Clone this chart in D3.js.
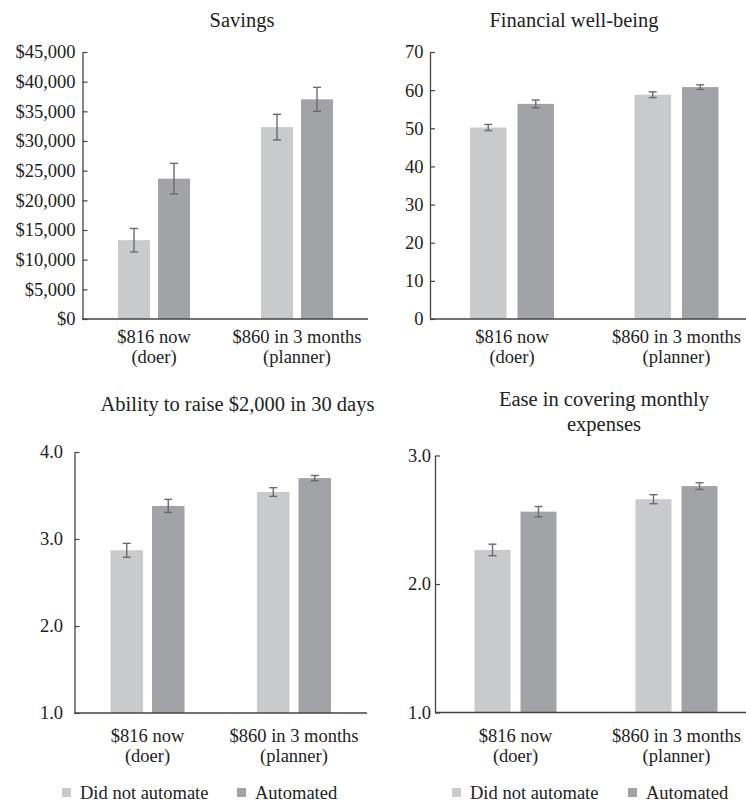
<!DOCTYPE html>
<html lang="en">
<head>
    <meta charset="UTF-8">
    <title>Automation and savings outcomes</title>
    <script src="https://d3js.org/d3.v7.min.js"></script>
    <style>
        body { margin: 0; background: #fff; }
        svg { font-family: "Liberation Serif", "Times New Roman", serif; }
        .title { font-size: 20.5px; fill: #222; text-anchor: middle; }
        .tick text { font-size: 18.5px; fill: #222; }
        .cat { font-size: 18.5px; fill: #222; text-anchor: middle; }
        .legend text { font-size: 18.5px; fill: #222; }
    </style>
</head>
<body>
<div id="chart"></div>
<script>
    // categories and series
    const groups = ["$816 now (doer)", "$860 in 3 months (planner)"];
    const groupLines = [["$816 now", "(doer)"], ["$860 in 3 months", "(planner)"]];
    const series = ["Did not automate", "Automated"];

    // Savings
    const savingsNot = [13280, 32340];
    const savingsAuto = [23650, 37020];
    const savingsErrNot = [1980, 2160];
    const savingsErrAuto = [2580, 2020];
    const savingsTicks = [0, 5000, 10000, 15000, 20000, 25000, 30000, 35000, 40000, 45000];

    // Financial well-being
    const wellNot = [50.2, 58.8];
    const wellAuto = [56.4, 60.8];
    const wellErrNot = [0.8, 0.75];
    const wellErrAuto = [1.0, 0.6];
    const wellTicks = [0, 10, 20, 30, 40, 50, 60, 70];

    // Ability to raise $2,000 in 30 days
    const abilityNot = [2.87, 3.54];
    const abilityAuto = [3.38, 3.70];
    const abilityErrNot = [0.08, 0.05];
    const abilityErrAuto = [0.075, 0.03];
    const abilityTicks = [1, 2, 3, 4];

    // Ease in covering monthly expenses
    const easeNot = [2.265, 2.66];
    const easeAuto = [2.563, 2.762];
    const easeErrNot = [0.045, 0.035];
    const easeErrAuto = [0.04, 0.026];
    const easeTicks = [1, 2, 3];

    const colors = ["#c9cacc", "#a2a3a6"];

    const panels = [
        {title: ["Savings"], titleX: 242, titleY: 27,
         not: savingsNot, auto: savingsAuto, errNot: savingsErrNot, errAuto: savingsErrAuto,
         domain: [0, 45000], ticks: savingsTicks, fmt: d3.format("$,"),
         axisX: 82.5, yTop: 52, yBot: 319, xEnd: 368, band: [82.5, 368.5], barW: 32, gap: 8,
         pad: 7, catY: [343, 363], legend: null},
        {title: ["Financial well-being"], titleX: 574, titleY: 27,
         not: wellNot, auto: wellAuto, errNot: wellErrNot, errAuto: wellErrAuto,
         domain: [0, 70], ticks: wellTicks, fmt: d3.format("d"),
         axisX: 430, yTop: 52, yBot: 319, xEnd: 746, band: [429.75, 758.75], barW: 36.5, gap: 11,
         pad: 6.5, catY: [343, 363], legend: null},
        {title: ["Ability to raise $2,000 in 30 days"], titleX: 237.5, titleY: 411,
         not: abilityNot, auto: abilityAuto, errNot: abilityErrNot, errAuto: abilityErrAuto,
         domain: [1, 4], ticks: abilityTicks, fmt: d3.format(".1f"),
         axisX: 74.5, yTop: 452, yBot: 713, xEnd: 367, band: [74.25, 367.25], barW: 32.5, gap: 9,
         pad: 11.5, catY: [742, 762], legend: {x: 62, x2: 237, y: 793}},
        {title: ["Ease in covering monthly", "expenses"], titleX: 604, titleY: 406,
         not: easeNot, auto: easeAuto, errNot: easeErrNot, errAuto: easeErrAuto,
         domain: [1, 3], ticks: easeTicks, fmt: d3.format(".1f"),
         axisX: 435, yTop: 455.5, yBot: 712.5, xEnd: 746, band: [435, 757], barW: 36, gap: 10,
         pad: 4, catY: [742, 762], legend: {x: 452, x2: 628, y: 793}}
    ];

    const svg = d3.select("#chart").append("svg")
        .attr("width", 746)
        .attr("height", 803);

    panels.forEach(p => drawPanel(p));

    function drawPanel(p) {
        const g = svg.append("g");
        const y = d3.scaleLinear().domain(p.domain).range([p.yBot, p.yTop]);
        const x0 = d3.scaleBand().domain(groups).range(p.band).padding(0);
        const half = p.barW + p.gap / 2;
        const x1 = d3.scaleBand().domain(series).range([-half, half])
            .paddingInner(p.gap / (p.barW + p.gap)).paddingOuter(0);

        const rows = [];
        groups.forEach((grp, i) => {
            rows.push({grp, s: series[0], v: p.not[i], e: p.errNot[i]});
            rows.push({grp, s: series[1], v: p.auto[i], e: p.errAuto[i]});
        });
        const bx = d => x0(d.grp) + x0.bandwidth() / 2 + x1(d.s);
        const cx = d => bx(d) + x1.bandwidth() / 2;

        g.selectAll("rect.bar").data(rows).join("rect")
            .attr("class", "bar")
            .attr("x", bx)
            .attr("width", x1.bandwidth())
            .attr("y", d => y(d.v))
            .attr("height", d => y(p.domain[0]) - y(d.v))
            .attr("fill", d => colors[series.indexOf(d.s)]);

        // error bars
        const eb = g.selectAll("g.err").data(rows).join("g").attr("class", "err")
            .attr("stroke", "#6b6b6e").attr("stroke-width", 1.4);
        eb.append("line")
            .attr("x1", cx).attr("x2", cx)
            .attr("y1", d => y(d.v + d.e)).attr("y2", d => y(d.v - d.e));
        [1, -1].forEach(sg => {
            eb.append("line")
                .attr("x1", d => cx(d) - 4).attr("x2", d => cx(d) + 4)
                .attr("y1", d => y(d.v + sg * d.e)).attr("y2", d => y(d.v + sg * d.e));
        });

        // y axis
        const ya = g.append("g").attr("transform", `translate(${p.axisX},0)`)
            .call(d3.axisLeft(y).tickValues(p.ticks).tickFormat(p.fmt)
                .tickSizeInner(-5).tickSizeOuter(0).tickPadding(p.pad))
            .attr("font-family", null).attr("font-size", null);
        ya.select(".domain").attr("stroke", "#444").attr("stroke-width", 1.3);
        ya.selectAll(".tick line").attr("stroke", "#444").attr("stroke-width", 1.2);

        // x axis baseline
        g.append("line")
            .attr("x1", p.axisX).attr("x2", p.xEnd)
            .attr("y1", y(p.domain[0])).attr("y2", y(p.domain[0]))
            .attr("stroke", "#444").attr("stroke-width", 1.5);

        // category labels
        groups.forEach((grp, i) => {
            const t = g.append("text").attr("class", "cat");
            groupLines[i].forEach((ln, j) => {
                t.append("tspan").attr("x", x0(grp) + x0.bandwidth() / 2).attr("y", p.catY[j]).text(ln);
            });
        });

        // title
        const tt = g.append("text").attr("class", "title");
        p.title.forEach((ln, j) => {
            tt.append("tspan").attr("x", p.titleX).attr("y", p.titleY + j * 25).text(ln);
        });

        // legend
        if (p.legend) {
            const lg = g.append("g").attr("class", "legend");
            [p.legend.x, p.legend.x2].forEach((lx, k) => {
                lg.append("rect").attr("x", lx).attr("y", p.legend.y - 5)
                    .attr("width", 9).attr("height", 9).attr("fill", colors[k]);
                lg.append("text").attr("x", lx + 18).attr("y", p.legend.y + 6).text(series[k]);
            });
        }
    }
</script>
</body>
</html>
